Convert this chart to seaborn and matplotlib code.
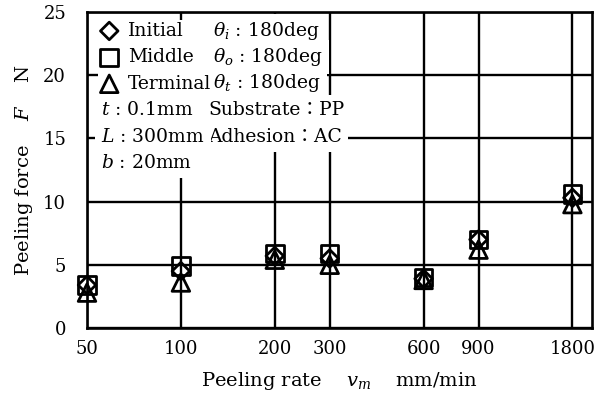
import matplotlib
matplotlib.use("Agg")
import matplotlib.pyplot as plt
import seaborn as sns
import pandas as pd

# ---- data ----
rates = [50, 100, 200, 300, 600, 900, 1800]
rate_labels = ["50", "100", "200", "300", "600", "900", "1800"]
initial = [3.4, 4.5, 5.7, 5.5, 3.9, 7.0, 10.3]
middle = [3.4, 4.9, 5.9, 5.9, 4.0, 7.0, 10.6]
terminal = [2.8, 3.6, 5.4, 5.0, 3.8, 6.2, 9.8]
positions = ["Initial", "Middle", "Terminal"]
yticks = [0, 5, 10, 15, 20, 25]

df = pd.DataFrame({
    "rate": rates * 3,
    "force": initial + middle + terminal,
    "pos": [p for p in positions for _ in rates],
})

sns.set_style("ticks")
plt.rcParams["font.family"] = ["DejaVu Serif", "Noto Sans CJK JP"]
plt.rcParams["mathtext.fontset"] = "dejavuserif"
for k in ["text.color", "axes.labelcolor", "xtick.color", "ytick.color",
          "xtick.labelcolor", "ytick.labelcolor"]:
    plt.rcParams[k] = "black"
FS = 13.5
TFS = 13

fig = plt.figure(figsize=(6.08, 4.01), dpi=100)
W, H = 608, 401
L_, R_, T_, B_ = 87, 592, 12, 328
ax = fig.add_axes([L_ / W, (H - B_) / H, (R_ - L_) / W, (B_ - T_) / H])

def axpt(x, y):
    return ((x - L_) / (R_ - L_), (B_ - y) / (B_ - T_))

markers = {"Initial": "D", "Middle": "s", "Terminal": "^"}
sizes = {"Initial": 80, "Middle": 160, "Terminal": 160}
for p in positions:
    sub = df[df["pos"] == p]
    sns.scatterplot(data=sub, x="rate", y="force", marker=markers[p], s=sizes[p],
                    fc="none", ec="black", linewidth=2.0, label=p, ax=ax,
                    clip_on=False, zorder=6)

ax.set_xscale("log")
ax.set_xlim(50, 2080)
ax.set_ylim(0, 25)
ax.set_xticks(rates)
ax.set_xticklabels(rate_labels)
ax.minorticks_off()
ax.set_yticks(yticks)
ax.tick_params(axis="both", length=0, labelsize=TFS, labelcolor="black")
ax.tick_params(axis="y", pad=15)
ax.tick_params(axis="x", pad=9)
ax.grid(True, color="black", linewidth=1.7)
ax.set_axisbelow(True)
for s in ax.spines.values():
    s.set_linewidth(1.9)
    s.set_color("black")

ax.set_xlabel("Peeling rate    $v_m$    mm/min", fontsize=FS + 0.5, labelpad=8,
              color="black")
ax.set_ylabel("Peeling force    $F$    N", fontsize=FS + 0.5, labelpad=6,
              color="black")

leg = ax.legend(loc="upper left", bbox_to_anchor=axpt(98, 20), fontsize=FS,
                frameon=True, fancybox=False, framealpha=1, edgecolor="none",
                borderpad=0.1, borderaxespad=0, handlelength=1.0,
                handletextpad=0.5, labelspacing=0.45)
leg.set_zorder(7)
for t in leg.get_texts():
    t.set_color("black")

bb = dict(facecolor="white", edgecolor="none", pad=4.5)
rows_y = [31, 57, 83, 110, 137, 163]
right_texts = ["$\\theta_i$ : 180deg", "$\\theta_o$ : 180deg", "$\\theta_t$ : 180deg",
               "Substrate：PP", "Adhesion：AC"]
right_x = [213, 213, 213, 208, 208]
for t, x, y in zip(right_texts, right_x, rows_y):
    ax.text(*axpt(x, y), t, transform=ax.transAxes, fontsize=FS, va="center",
            ha="left", bbox=bb, zorder=7, color="black")
left_texts = ["$t$ : 0.1mm", "$L$ : 300mm", "$b$ : 20mm"]
for t, y in zip(left_texts, rows_y[3:]):
    ax.text(*axpt(101, y), t, transform=ax.transAxes, fontsize=FS, va="center",
            ha="left", bbox=bb, zorder=7, color="black")

fig.savefig("out.png", dpi=100)
